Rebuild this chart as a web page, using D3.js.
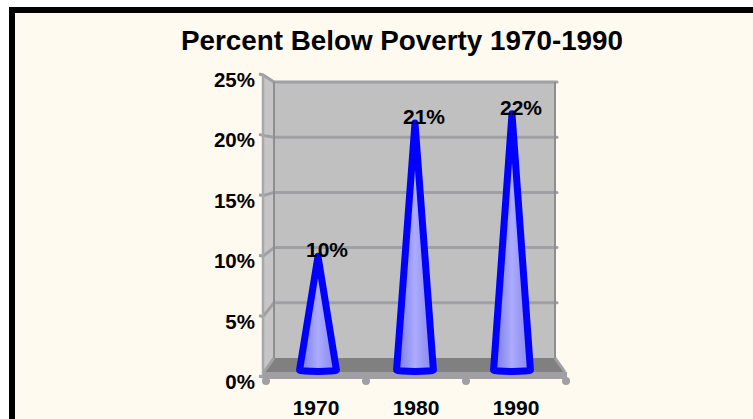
<!DOCTYPE html>
<html>
<head>
<meta charset="utf-8">
<script src="https://cdn.jsdelivr.net/npm/d3@7"></script>
<style>
  html, body { margin: 0; padding: 0; background: #ffffff; }
  svg { display: block; }
  text { font-family: "Liberation Sans", Arial, sans-serif; font-weight: bold; fill: #000; }
</style>
</head>
<body>
<svg id="chart" width="753" height="419"></svg>
<script>
// ---- data ----
const title = "Percent Below Poverty 1970-1990";
const categories = ["1970", "1980", "1990"];
const values = [0.098, 0.213, 0.221];
const yTicks = [0, 0.05, 0.10, 0.15, 0.20, 0.25];
const gridTicks = [0.05, 0.10, 0.15, 0.20];

const svg = d3.select("#chart");

// frame
svg.append("rect").attr("x", 12).attr("y", 10).attr("width", 780).attr("height", 440)
  .attr("fill", "#FFFAF0").attr("stroke", "#000").attr("stroke-width", 6);

// title
svg.append("text").attr("x", 402).attr("y", 50).attr("text-anchor", "middle")
  .attr("font-size", 27).attr("textLength", 442).attr("lengthAdjust", "spacingAndGlyphs")
  .text(title);

// scales (front plane, back wall, middle depth for cones)
const yFront = d3.scaleLinear().domain([0, 0.25]).range([377, 75]);
const yBack = d3.scaleLinear().domain([0, 0.25]).range([358, 82]);
const yMid = d3.scaleLinear().domain([0, 0.25]).range([370, 80]);
const xFront = d3.scaleBand().domain(categories).range([266, 566]);
const xBack = d3.scaleBand().domain(categories).range([274, 555]);
const xMid = d3.scaleBand().domain(categories).range([269.5, 560.5]);

const wallFill = "#C0C0C0", gridCol = "#A0A0A4", edgeCol = "#8E8E90";
const bx0 = xBack.range()[0], bx1 = xBack.range()[1];
const fx0 = 263, fx1 = 566;

// side wall (left)
svg.append("path")
  .attr("d", `M${fx0},${yFront(0.25)} L${bx0},${yBack(0.25)} L${bx0},${yBack(0)} L${fx0},${yFront(0)} Z`)
  .attr("fill", "#C6C6C6").attr("stroke", "none");

// back wall
svg.append("rect").attr("x", bx0).attr("y", yBack(0.25))
  .attr("width", bx1 - bx0).attr("height", yBack(0) - yBack(0.25))
  .attr("fill", wallFill);

// back wall gridlines
svg.append("g").selectAll("line").data(gridTicks).join("line")
  .attr("x1", bx0).attr("x2", bx1 + 2)
  .attr("y1", d => yBack(d)).attr("y2", d => yBack(d))
  .attr("stroke", gridCol).attr("stroke-width", 3).attr("stroke-linecap", "round");

// side wall gridlines + ticks
svg.append("g").selectAll("path").data(yTicks).join("path")
  .attr("d", d => `M${fx0 - 4},${yFront(d) - 1} L${fx0},${yFront(d)} L${bx0},${yBack(d)}`)
  .attr("fill", "none").attr("stroke", gridCol).attr("stroke-width", 3);

// back wall edges
svg.append("line").attr("x1", bx0).attr("x2", bx1 + 2).attr("y1", yBack(0.25)).attr("y2", yBack(0.25))
  .attr("stroke", gridCol).attr("stroke-width", 3).attr("stroke-linecap", "round");
svg.append("line").attr("x1", bx0).attr("x2", bx0).attr("y1", yBack(0.25)).attr("y2", yBack(0))
  .attr("stroke", edgeCol).attr("stroke-width", 2);
svg.append("line").attr("x1", bx1).attr("x2", bx1).attr("y1", yBack(0.25)).attr("y2", yBack(0))
  .attr("stroke", edgeCol).attr("stroke-width", 2);
// front edge of side wall
svg.append("line").attr("x1", fx0).attr("x2", fx0).attr("y1", yFront(0.25)).attr("y2", yFront(0))
  .attr("stroke", "#A8A8AC").attr("stroke-width", 2.5);

// floor
svg.append("path")
  .attr("d", `M${bx0},${yBack(0)} L${bx1},${yBack(0)} L${fx1 - 2},372 L${fx0 + 2},372 Z`)
  .attr("fill", "#808080");
svg.append("path")
  .attr("d", `M${bx1},${yBack(0)} L${fx1 - 1},372`)
  .attr("stroke", gridCol).attr("stroke-width", 3).attr("fill", "none");
svg.append("path")
  .attr("d", `M${bx0},${yBack(0)} L${fx0 + 1},372`)
  .attr("stroke", gridCol).attr("stroke-width", 3).attr("fill", "none");
svg.append("rect").attr("x", fx0).attr("y", 372).attr("width", fx1 - fx0 + 1).attr("height", 7)
  .attr("fill", gridCol);
// category boundary dots
const bounds = categories.map(c => xFront(c)).concat([xFront.range()[1]]);
svg.append("g").selectAll("circle").data(bounds).join("circle")
  .attr("cx", d => d).attr("cy", 381).attr("r", 4).attr("fill", gridCol);

// gradient for cones
const defs = svg.append("defs");
const grad = defs.append("linearGradient").attr("id", "coneGrad")
  .attr("x1", "0").attr("x2", "1").attr("y1", "0").attr("y2", "0");
grad.append("stop").attr("offset", "0").attr("stop-color", "#7676E2");
grad.append("stop").attr("offset", "0.5").attr("stop-color", "#ABABFF");
grad.append("stop").attr("offset", "1").attr("stop-color", "#8484EA");

// cones
const hw = xMid.bandwidth() * 0.19;
const ry = 1.5;
svg.append("g").selectAll("path").data(categories).join("path")
  .attr("d", (c, i) => {
    const cx = xMid(c) + xMid.bandwidth() / 2;
    const top = yMid(values[i]);
    const base = yMid(0);
    return `M${cx},${top} L${cx + hw},${base} A${hw},${ry} 0 0 1 ${cx - hw},${base} Z`;
  })
  .attr("fill", "url(#coneGrad)")
  .attr("stroke", "#0000FF").attr("stroke-width", 7).attr("stroke-linejoin", "round");

// data labels
svg.append("g").selectAll("text").data(categories).join("text")
  .attr("x", c => xMid(c) + xMid.bandwidth() / 2 + 9)
  .attr("y", (c, i) => yMid(values[i]) + 1)
  .attr("text-anchor", "middle").attr("font-size", 21)
  .text((c, i) => d3.format(".0%")(values[i]));

// y axis labels
const yAxis = d3.axisLeft(yFront).tickValues(yTicks).tickSize(0).tickPadding(0)
  .tickFormat(d3.format(".0%"));
const gy = svg.append("g").attr("transform", "translate(255,5)").call(yAxis);
gy.select(".domain").remove();
gy.selectAll("text").attr("font-size", 20.5).attr("font-family", "Liberation Sans, Arial, sans-serif")
  .attr("font-weight", "bold").attr("fill", "#000");

// x axis labels
const xAxis = d3.axisBottom(xFront).tickSize(0).tickPadding(0);
const gx = svg.append("g").attr("transform", "translate(0,400)").call(xAxis);
gx.select(".domain").remove();
gx.selectAll("text").attr("font-size", 21).attr("font-family", "Liberation Sans, Arial, sans-serif")
  .attr("font-weight", "bold").attr("fill", "#000").attr("y", 0);
</script>
</body>
</html>
